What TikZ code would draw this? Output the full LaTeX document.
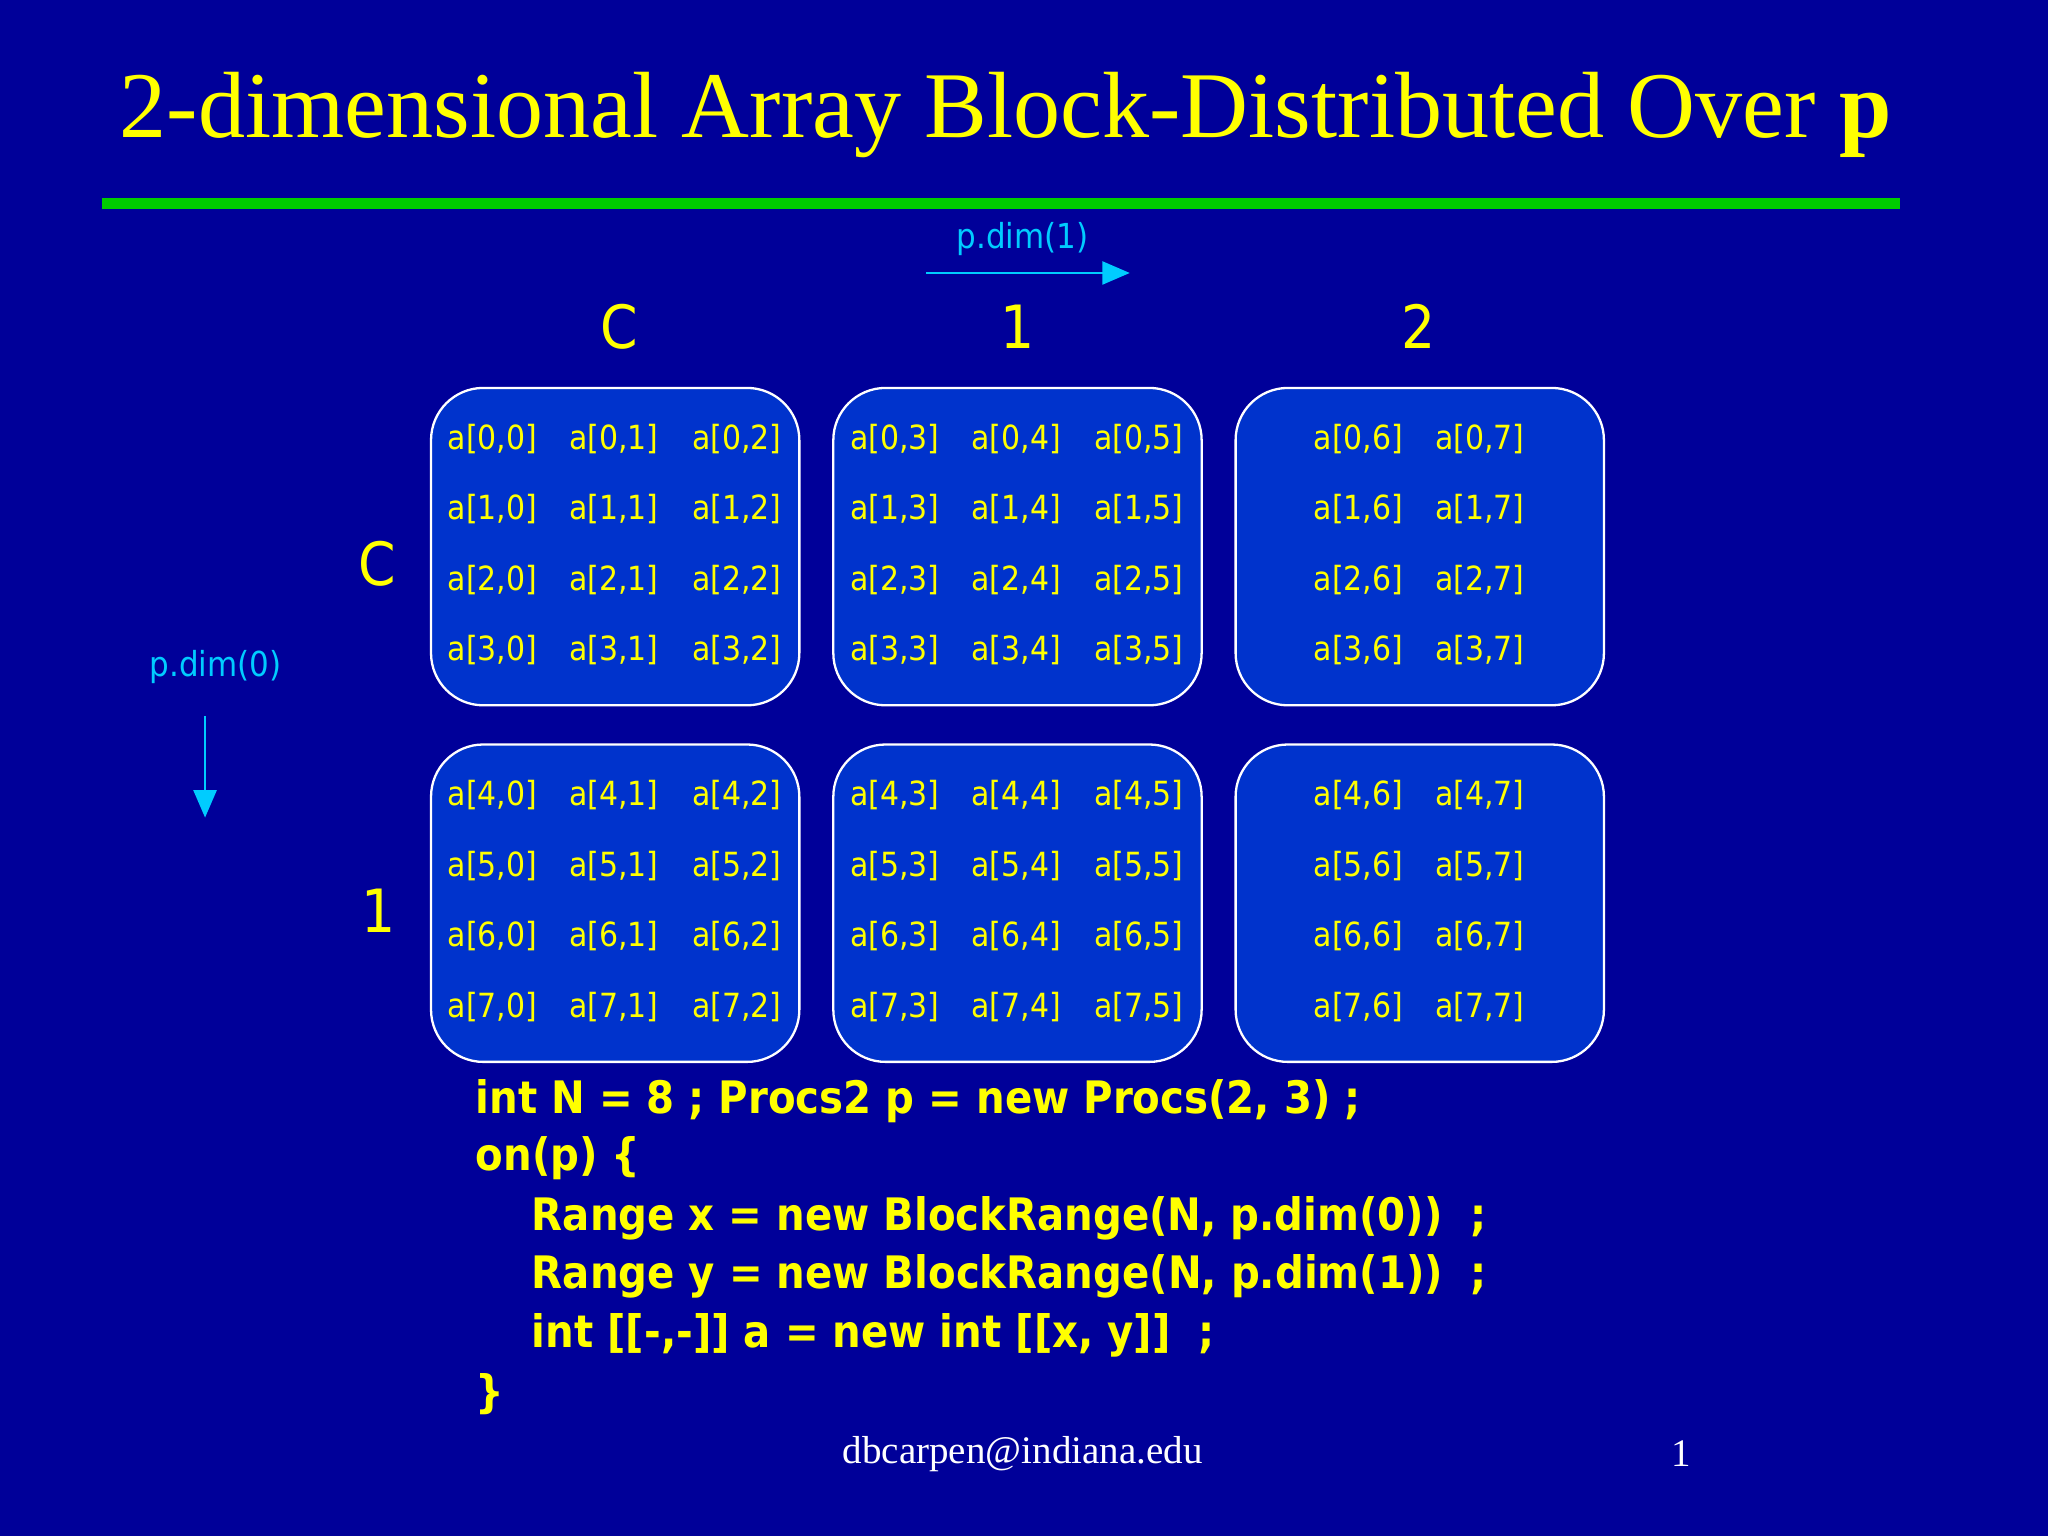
\documentclass[tikz,border=0pt]{standalone}
\usepackage{fontspec}
\setmainfont{Liberation Serif}
\newfontfamily\cellfont{DejaVu Sans Condensed}
\newfontfamily\codefont{DejaVu Sans Condensed}
\usetikzlibrary{arrows.meta}
\definecolor{bg}{RGB}{0,0,153}
\definecolor{boxfill}{RGB}{0,51,204}
\definecolor{ylw}{RGB}{255,255,0}
\definecolor{cyn}{RGB}{0,204,255}
\definecolor{grn}{RGB}{0,204,0}
\begin{document}
\begin{tikzpicture}[x=0.02cm,y=-0.02cm,
  blk/.style={draw=white,line width=1pt,fill=boxfill,rounded corners=0.8cm},
  cell/.style={text=ylw,font=\cellfont\fontsize{14.5}{16}\selectfont},
  lab/.style={text=ylw,font=\cellfont\fontsize{26}{28}\selectfont},
  cy/.style={text=cyn,font=\cellfont\fontsize{15}{17}\selectfont},
  code/.style={text=ylw,anchor=west,font=\codefont\bfseries\fontsize{19.5}{22}\selectfont},
  arr/.style={draw=cyn,line width=1.2pt,-{Triangle[length=12pt,width=10pt]}}]
\fill[bg] (0,0) rectangle (1568,1176);
\useasboundingbox (0,0) rectangle (1568,1176);
\node[text=ylw,font=\fontsize{41}{44}\selectfont] (title) at (770,88) {2-dimensional Array Block-Distributed Over \textbf{p}};
\draw[grn,line width=5pt] (78,156) -- (1455,156);
\node[cy] (pd1) at (783,183) {p.dim(1)};
\coordinate (a1s) at (709,209); \coordinate (a1e) at (865,209);
\draw[arr] (a1s) -- (a1e);
\node[cy] (pd0) at (165,511) {p.dim(0)};
\coordinate (a0s) at (157,548); \coordinate (a0e) at (157,626);
\draw[arr] (a0s) -- (a0e);
\node[lab] (c0) at (474,250) {C};
\node[lab] (c1) at (779,250) {1};
\node[lab] (c2) at (1086,250) {2};
\node[lab] (r0) at (289,432) {C};
\node[lab] (r1) at (290,697) {1};
\foreach \bx/\cx in {0/330,1/638,2/946}{
  \foreach \by/\cyy in {0/297,1/570}{
    \draw[blk] (\cx,\cyy) rectangle ++(282,243);
  }}
\foreach \r/\y in {0/336,1/390,2/444,3/498,4/609,5/663,6/717,7/771}{
  \foreach \c/\x in {0/377,1/470,2/564,3/685,4/778,5/872,6/1040,7/1133}{
    \node[cell] (e\r\c) at (\x,\y) {a[\r,\c]};
  }}
\node[code] (l1) at (358,843) {int N = 8 ; Procs2 p = new Procs(2, 3) ;};
\node[code] (l2) at (358,887) {on(p) \{};
\node[code] (l3) at (401,933) {Range x = new BlockRange(N, p.dim(0))\ \ ;};
\node[code] (l4) at (401,977) {Range y = new BlockRange(N, p.dim(1))\ \ ;};
\node[code] (l5) at (401,1022) {int [[-,-]] a = new int [[x, y]]\ \ ;};
\node[code] (l6) at (358,1067) {\}};
\node[text=white,font=\fontsize{17}{19}\selectfont] (foot) at (783,1113) {dbcarpen@indiana.edu};
\node[text=white,font=\fontsize{17}{19}\selectfont] (pg) at (1287,1113) {1};
\end{tikzpicture}
\end{document}
